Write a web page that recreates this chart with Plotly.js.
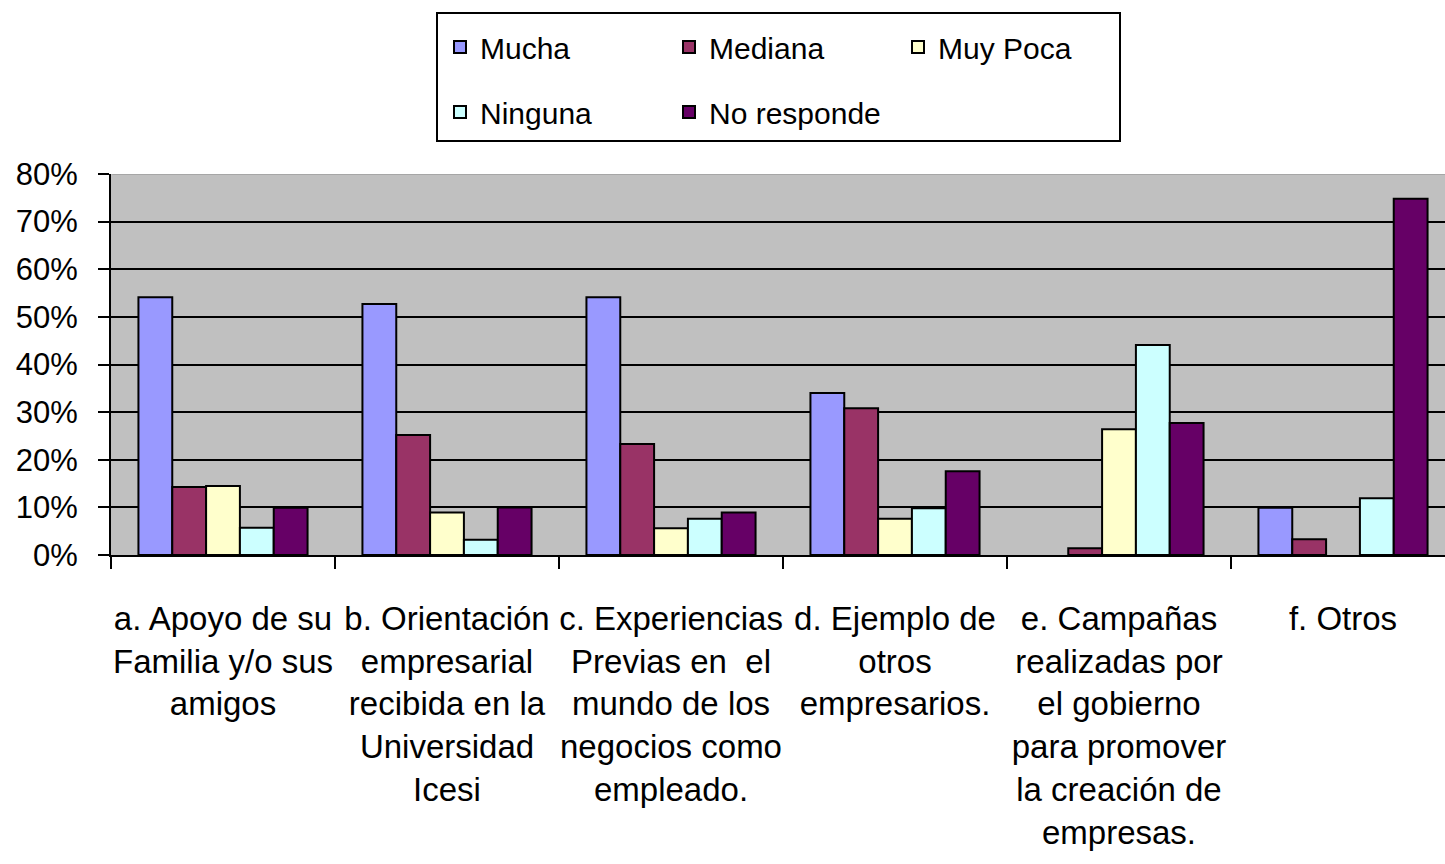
<!DOCTYPE html>
<html>
<head>
<meta charset="utf-8">
<script src="https://cdn.plot.ly/plotly-3.0.1.min.js"></script>
<style>html,body{margin:0;padding:0;background:#fff;}#chart{width:1445px;height:864px;}</style>
</head>
<body>
<div id="chart"></div>
<script>
const categories = [
  "a. Apoyo de su<br>Familia y/o sus<br>amigos",
  "b. Orientación<br>empresarial<br>recibida en la<br>Universidad<br>Icesi",
  "c. Experiencias<br>Previas en  el<br>mundo de los<br>negocios como<br>empleado.",
  "d. Ejemplo de<br>otros<br>empresarios.",
  "e. Campañas<br>realizadas por<br>el gobierno<br>para promover<br>la creación de<br>empresas.",
  "f. Otros"
];
const seriesNames = ["Mucha", "Mediana", "Muy Poca", "Ninguna", "No responde"];
// null = no bar drawn (0%) in the reference
const mucha      = [54.1, 52.7, 54.1, 34.0, null, 9.9];
const mediana    = [14.3, 25.2, 23.3, 30.8, 1.4, 3.3];
const muyPoca    = [14.5, 8.9, 5.6, 7.6, 26.4, null];
const ninguna    = [5.7, 3.2, 7.6, 9.8, 44.1, 11.9];
const noResponde = [9.9, 10.0, 8.9, 17.6, 27.7, 74.8];
const seriesValues = [mucha, mediana, muyPoca, ninguna, noResponde];
const colors = ["#9999FF", "#993366", "#FFFFCC", "#CCFFFF", "#660066"];
const legendOf = ["legend", "legend", "legend", "legend2", "legend2"];

const FONT = "'Liberation Sans', Arial, sans-serif";

const traces = seriesNames.map((name, i) => ({
  type: "bar",
  name: name,
  x: categories,
  y: seriesValues[i],
  legend: legendOf[i],
  marker: { color: colors[i], line: { color: "#000", width: 2 } },
  hoverinfo: "x+y+name"
}));

const W = 1445, H = 864;
const L = 111, T = 174, B = 864 - 555;
const plotW = W - L, plotH = H - T - B;
const px2x = p => (p - L) / plotW;
const py2y = p => 1 + (T - p) / plotH;

const legendCommon = {
  orientation: "h",
  xanchor: "left",
  yanchor: "middle",
  bgcolor: "rgba(0,0,0,0)", borderwidth: 0,
  entrywidth: 184, entrywidthmode: "pixels",
  itemwidth: 30,
  font: { family: FONT, size: 30, color: "#000" },
  traceorder: "normal"
};

const layout = {
  width: W, height: H,
  margin: { l: L, r: 0, t: T, b: B, pad: 0 },
  paper_bgcolor: "#ffffff",
  plot_bgcolor: "#c0c0c0",
  barmode: "group",
  bargap: 0.245,
  bargroupgap: 0,
  font: { family: FONT, size: 30, color: "#000" },
  showlegend: true,
  xaxis: {
    type: "category",
    range: [-0.5, -0.5 + plotW / 224],
    tickson: "boundaries",
    ticks: "outside", ticklen: 12, tickwidth: 2, tickcolor: "#000",
    showline: true, linecolor: "#000", linewidth: 2,
    showgrid: false, zeroline: false,
    tickangle: 0,
    ticklabelstandoff: 33,
    tickfont: { family: FONT, size: 33, color: "#000" },
    automargin: false
  },
  yaxis: {
    range: [0, 80],
    tick0: 0, dtick: 10,
    ticksuffix: "%",
    ticks: "outside", ticklen: 11, tickwidth: 2, tickcolor: "#000",
    showline: true, linecolor: "#000", linewidth: 2,
    showgrid: true, gridcolor: "#000", gridwidth: 2,
    zeroline: false,
    ticklabelstandoff: 14,
    tickfont: { family: FONT, size: 31, color: "#000" },
    automargin: false
  },
  legend: Object.assign({}, legendCommon, { x: px2x(440), y: py2y(47) }),
  legend2: Object.assign({}, legendCommon, { x: px2x(440), y: py2y(112) }),
  shapes: [
    { type: "rect", xref: "paper", yref: "paper",
      x0: px2x(437), x1: px2x(1120), y0: py2y(141), y1: py2y(13),
      line: { color: "#000", width: 2 }, fillcolor: "rgba(0,0,0,0)", layer: "above" },
    { type: "line", xref: "paper", yref: "y",
      x0: 0.001, x1: 1, y0: 80, y1: 80,
      line: { color: "#a6a6a6", width: 2 }, layer: "above" }
  ]
};

Plotly.newPlot("chart", traces, layout, { displayModeBar: false });
</script>
</body>
</html>
